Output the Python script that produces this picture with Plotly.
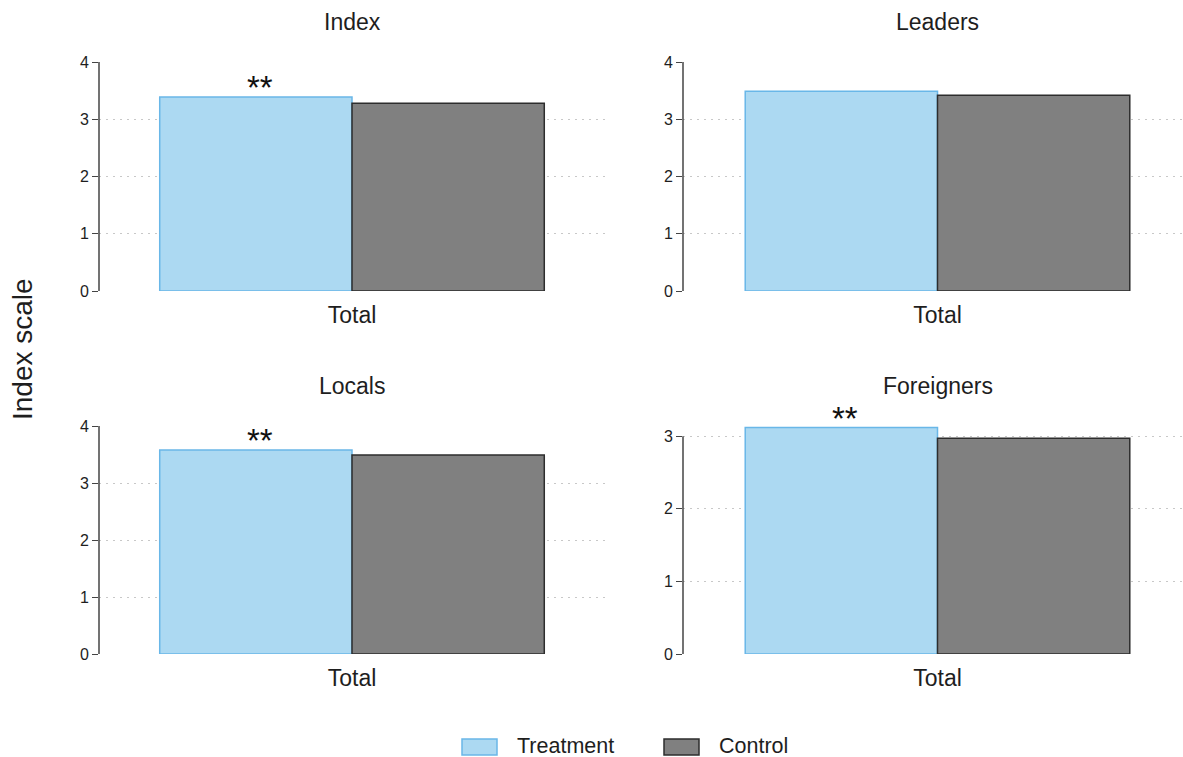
import plotly.graph_objects as go

# Panel data
panels = ["Index", "Leaders", "Locals", "Foreigners"]
category = ["Total"]
series = ["Treatment", "Control"]
treatment = [3.39, 3.49, 3.58, 3.12]
control = [3.28, 3.42, 3.49, 2.97]
stars = ["**", "", "**", "**"]
y_top_tick = [4, 4, 4, 3]
y_max = [4.0, 4.0, 4.0, 3.14]

W, H = 1183, 757
FILLS = ["rgb(172,217,242)", "rgb(128,128,128)"]
LINES = ["rgb(105,183,232)", "rgb(45,45,45)"]
FONT = "Liberation Sans, Arial, sans-serif"
INK = "#1e1e1e"

# pixel boxes for each panel: (left, right, top, bottom)
boxes = [(99, 605, 62, 291), (683, 1183, 62, 291),
         (99, 605, 426, 654), (683, 1183, 426, 654)]
PANEL_W = 506  # width of a full panel in pixels; keeps bar widths equal
BARGAP = 0.24
HALF_BAR_PX = PANEL_W * (1 - BARGAP) / 4  # half of one bar's width

fig = go.Figure()
layout = dict(
    width=W, height=H,
    margin=dict(l=0, r=0, t=0, b=0, autoexpand=False),
    paper_bgcolor="white", plot_bgcolor="white",
    font=dict(family=FONT, color=INK),
    barmode="group", bargap=BARGAP, bargroupgap=0,
    showlegend=False,
)

shapes, annotations = [], []
for i, name in enumerate(panels):
    n = "" if i == 0 else str(i + 1)
    xa, ya = "x" + n, "y" + n
    left, right, top, bottom = boxes[i]
    centre = (99 + 605) / 2 if i % 2 == 0 else 937.5
    lo = -(centre - left) / PANEL_W
    hi = lo + (right - left) / PANEL_W
    layout["xaxis" + n] = dict(
        domain=[left / W, right / W], anchor=ya, type="category",
        range=[lo, hi],
        showline=False, showgrid=False, zeroline=False, ticks="",
        tickfont=dict(size=23, color=INK), ticklabelstandoff=8,
    )
    layout["yaxis" + n] = dict(
        domain=[1 - bottom / H, 1 - top / H], anchor=xa, range=[0, y_max[i]],
        tickvals=list(range(0, y_top_tick[i] + 1)),
        showgrid=True, gridcolor="rgb(200,200,200)", griddash="2px,5px", gridwidth=1,
        zeroline=False, showline=False,
        ticks="outside", ticklen=6, tickcolor="#444", tickwidth=1,
        tickfont=dict(size=16, color=INK),
    )
    fig.add_trace(go.Bar(
        x=category, y=[treatment[i]], name=series[0], xaxis=xa, yaxis=ya,
        marker=dict(color=FILLS[0], line=dict(color=LINES[0], width=1.5)),
    ))
    fig.add_trace(go.Bar(
        x=category, y=[control[i]], name=series[1], xaxis=xa, yaxis=ya,
        marker=dict(color=FILLS[1], line=dict(color=LINES[1], width=1.5)),
    ))
    # significance stars just above the treatment bar
    if stars[i]:
        annotations.append(dict(text=stars[i], xref=xa, yref=ya,
                                x=category[0], y=treatment[i],
                                xshift=-HALF_BAR_PX + 4, yshift=9,
                                xanchor="center", yanchor="middle", showarrow=False,
                                font=dict(size=33, color="#111")))
    # vertical axis line spanning the labelled ticks
    shapes.append(dict(type="line", xref=xa + " domain", yref=ya,
                       x0=0, x1=0, y0=0, y1=y_top_tick[i],
                       line=dict(color="#444", width=1.5)))
    annotations.append(dict(text=name, xref="paper", yref="paper",
                            x=centre / W, y=1 - (top - 40) / H,
                            xanchor="center", yanchor="middle",
                            showarrow=False, font=dict(size=23, color=INK)))

annotations.append(dict(text="Index scale", xref="paper", yref="paper",
                        x=22 / W, y=1 - 349 / H, textangle=-90,
                        xanchor="center", yanchor="middle", showarrow=False,
                        font=dict(size=28, color=INK)))

# legend: wide swatches followed by the series names
legend_x = [462, 664]
for k, label in enumerate(series):
    x0 = legend_x[k]
    shapes.append(dict(type="rect", xref="paper", yref="paper",
                       x0=x0 / W, x1=(x0 + 35) / W, y0=1 - 755 / H, y1=1 - 739 / H,
                       fillcolor=FILLS[k], line=dict(color=LINES[k], width=1.5)))
    annotations.append(dict(text=label, xref="paper", yref="paper",
                            x=(x0 + 53) / W, y=1 - 746 / H,
                            xanchor="left", yanchor="middle", showarrow=False,
                            font=dict(size=21.5, color=INK)))

layout["shapes"] = shapes
layout["annotations"] = annotations
fig.update_layout(**layout)
fig.write_html("out.html")
